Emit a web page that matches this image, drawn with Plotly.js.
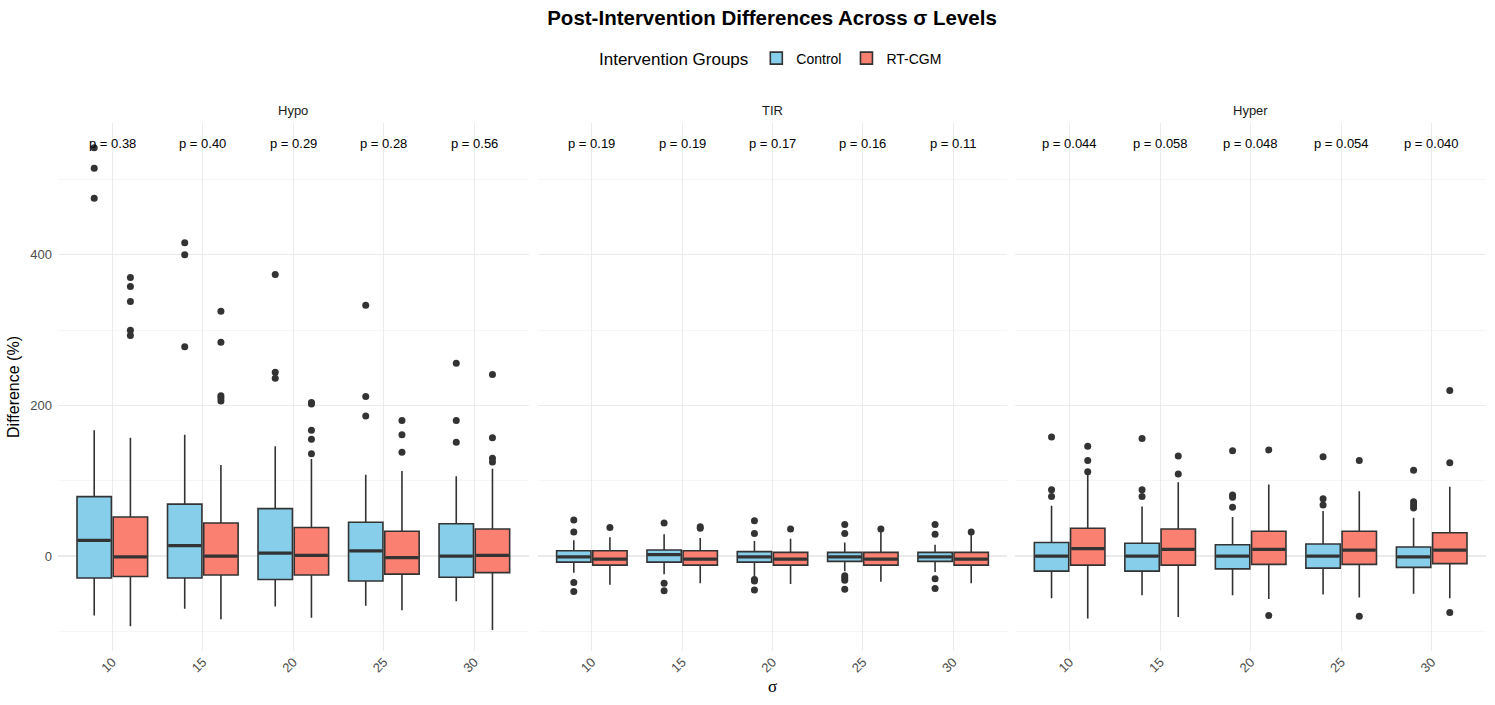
<!DOCTYPE html>
<html>
<head>
<meta charset="utf-8">
<script src="https://cdn.plot.ly/plotly-3.0.1.min.js"></script>
<style>html,body{margin:0;padding:0;background:#fff;}#chart{width:1495px;height:705px;}</style>
</head>
<body>
<div id="chart"></div>
<script>
// ---- data ----
const sigmaLevels = ['10', '15', '20', '25', '30'];
const panelNames = ['Hypo', 'TIR', 'Hyper'];
const groupNames = ['Control', 'RT-CGM'];

// each row: [lower whisker, Q1, median, Q3, upper whisker] per sigma level
const hypoControl = [[-79, -29, 21, 79, 167], [-70, -29, 14, 69, 161], [-67, -31, 4, 63, 146], [-66, -33, 7, 45, 108], [-60, -28, 0, 43, 106]];
const hypoRTCGM   = [[-93, -27, -1, 52, 157], [-84, -25, 0, 44, 121], [-82, -25, 1, 38, 129], [-72, -24, -2, 33, 113], [-98, -22, 1, 36, 116]];
const tirControl  = [[-22, -8, -1, 7, 21], [-24, -8, 2, 8, 29], [-27, -8, -1, 6, 20], [-20, -7, -1, 5, 18], [-21, -7, -1, 5, 15]];
const tirRTCGM    = [[-38, -12, -4, 7, 25], [-36, -12, -4, 7, 24], [-37, -12, -4, 5, 23], [-34, -12, -4, 5, 33], [-36, -12, -4, 5, 29]];
const hyperControl = [[-56, -20, 0, 18, 67], [-52, -20, 0, 17, 66], [-52, -17, 0, 15, 52], [-51, -16, 0, 16, 60], [-50, -15, -1, 12, 51]];
const hyperRTCGM   = [[-83, -12, 10, 37, 110], [-81, -12, 9, 36, 98], [-57, -11, 9, 33, 95], [-55, -11, 8, 33, 86], [-56, -10, 8, 31, 92]];

// outliers per sigma level
const hypoControlOut = [[542, 515, 475], [416, 400, 278], [374, 244, 236], [333, 212, 186], [256, 180, 151]];
const hypoRTCGMOut   = [[370, 358, 338, 300, 293], [325, 284, 213, 210, 206], [204, 202, 167, 155, 136], [180, 161, 138], [241, 157, 130, 125]];
const tirControlOut  = [[48, 32, -35, -47], [44, -36, -46], [47, 30, -31, -33, -45], [42, 30, -26, -29, -32, -44], [42, 29, -30, -43]];
const tirRTCGMOut    = [[38], [39, 37], [36], [36], [32]];
const hyperControlOut = [[158, 88, 79], [156, 88, 79], [140, 81, 78, 65], [132, 76, 68], [114, 72, 68, 64]];
const hyperRTCGMOut   = [[146, 127, 112], [133, 109], [141, -79], [127, -80], [220, 124, -75]];

// p-value labels
const hypoP  = ['0.38', '0.40', '0.29', '0.28', '0.56'];
const tirP   = ['0.19', '0.19', '0.17', '0.16', '0.11'];
const hyperP = ['0.044', '0.058', '0.048', '0.054', '0.040'];
const pLabelY = 548;

// ---- styling ----
const fills = ['#87CEEB', '#FA8072'];
const ink = '#333333';
const boxW = 0.38, dodge = 0.2;
const FONT = 'Liberation Sans, Arial, Helvetica, sans-serif';

const panelStats = [[hypoControl, hypoRTCGM], [tirControl, tirRTCGM], [hyperControl, hyperRTCGM]];
const panelOut = [[hypoControlOut, hypoRTCGMOut], [tirControlOut, tirRTCGMOut], [hyperControlOut, hyperRTCGMOut]];
const panelP = [hypoP, tirP, hyperP];

const positions = sigmaLevels.map((s, i) => i + 1);
const traces = [];
const annotations = [];

panelNames.forEach((pn, pi) => {
  const xa = pi === 0 ? 'x' : 'x' + (pi + 1);
  const ya = pi === 0 ? 'y' : 'y' + (pi + 1);
  groupNames.forEach((gn, gi) => {
    const stats = panelStats[pi][gi];
    const xs = positions.map(p => p + (gi === 0 ? -dodge : dodge));
    traces.push({
      type: 'box', name: gn, legendgroup: gn, showlegend: pi === 0,
      x: xs,
      lowerfence: stats.map(r => r[0]), q1: stats.map(r => r[1]), median: stats.map(r => r[2]),
      q3: stats.map(r => r[3]), upperfence: stats.map(r => r[4]),
      width: boxW, whiskerwidth: 0, boxpoints: false,
      fillcolor: fills[gi], line: {color: ink, width: 1.6},
      xaxis: xa, yaxis: ya, hoverinfo: 'skip'
    });
    // thicker median bars
    const mx = [], my = [];
    xs.forEach((x, i) => { mx.push(x - boxW / 2 + 0.01, x + boxW / 2 - 0.01, null); my.push(stats[i][2], stats[i][2], null); });
    traces.push({type: 'scatter', mode: 'lines', x: mx, y: my, line: {color: ink, width: 3.2},
      showlegend: false, xaxis: xa, yaxis: ya, hoverinfo: 'skip'});
    // outliers
    const ox = [], oy = [];
    panelOut[pi][gi].forEach((arr, i) => arr.forEach(v => { ox.push(xs[i]); oy.push(v); }));
    traces.push({type: 'scatter', mode: 'markers', x: ox, y: oy,
      marker: {color: ink, size: 7}, showlegend: false, xaxis: xa, yaxis: ya, hoverinfo: 'skip'});
  });
  // p-values
  panelP[pi].forEach((p, i) => {
    annotations.push({xref: xa, yref: ya, x: positions[i], y: pLabelY, text: 'p = ' + p,
      showarrow: false, font: {family: FONT, size: 13, color: '#000'}, xanchor: 'center', yanchor: 'middle'});
  });
});

const domains = [[0, 0.3296], [0.3359, 0.6648], [0.6704, 1]];
domains.forEach((d, i) => {
  annotations.push({xref: 'paper', yref: 'paper', x: (d[0] + d[1]) / 2, y: 1.0246, text: panelNames[i],
    showarrow: false, font: {family: FONT, size: 13, color: '#1a1a1a'}, xanchor: 'center', yanchor: 'middle'});
});

const yRange = [-126, 575];
const layout = {
  width: 1495, height: 705,
  margin: {l: 58, r: 9, t: 123, b: 54},
  paper_bgcolor: '#fff', plot_bgcolor: '#fff',
  font: {family: FONT, color: '#000'},
  boxmode: 'overlay',
  title: {text: '<b>Post-Intervention Differences Across σ Levels</b>', x: 0.5, xref: 'paper', xanchor: 'center',
    y: 1 - 18 / 705, yref: 'container', yanchor: 'middle', font: {family: FONT, size: 20.5, color: '#000'}},
  legend: {orientation: 'h', x: 0.5, xref: 'paper', xanchor: 'center', y: 1 - 59 / 705, yref: 'container', yanchor: 'middle',
    font: {family: FONT, size: 14, color: '#000'},
    title: {text: 'Intervention Groups', side: 'left', font: {family: FONT, size: 17, color: '#000'}},
    itemwidth: 30, traceorder: 'normal'},
  annotations: annotations,
  showlegend: true
};

domains.forEach((d, i) => {
  const sfx = i === 0 ? '' : String(i + 1);
  layout['xaxis' + sfx] = {
    domain: d, range: [0.4, 5.6], anchor: 'y' + sfx,
    tickvals: positions, ticktext: sigmaLevels, tickangle: -45,
    tickfont: {family: FONT, size: 13, color: '#4d4d4d'},
    showgrid: true, gridcolor: '#ebebeb', gridwidth: 1.2, zeroline: false, showline: false, ticks: '',
    title: i === 1 ? {text: 'σ', font: {family: 'Liberation Serif, DejaVu Serif, serif', size: 17, color: '#000'}, standoff: 5} : {text: ''}
  };
  layout['yaxis' + sfx] = {
    domain: [0, 1], range: yRange, anchor: 'x' + sfx,
    tick0: 0, dtick: 200, showticklabels: i === 0, ticklabelstandoff: 5,
    tickfont: {family: FONT, size: 13, color: '#4d4d4d'},
    showgrid: true, gridcolor: '#ebebeb', gridwidth: 1.2, zeroline: false, showline: false, ticks: '',
    minor: {dtick: 100, tick0: 0, showgrid: true, gridcolor: '#f2f2f2', gridwidth: 0.7},
    title: i === 0 ? {text: 'Difference (%)', font: {family: FONT, size: 16, color: '#000'}, standoff: 6} : {text: ''}
  };
  if (i > 0) layout['yaxis' + sfx].matches = 'y';
});

Plotly.newPlot('chart', traces, layout, {staticPlot: true, displayModeBar: false});
</script>
</body>
</html>
